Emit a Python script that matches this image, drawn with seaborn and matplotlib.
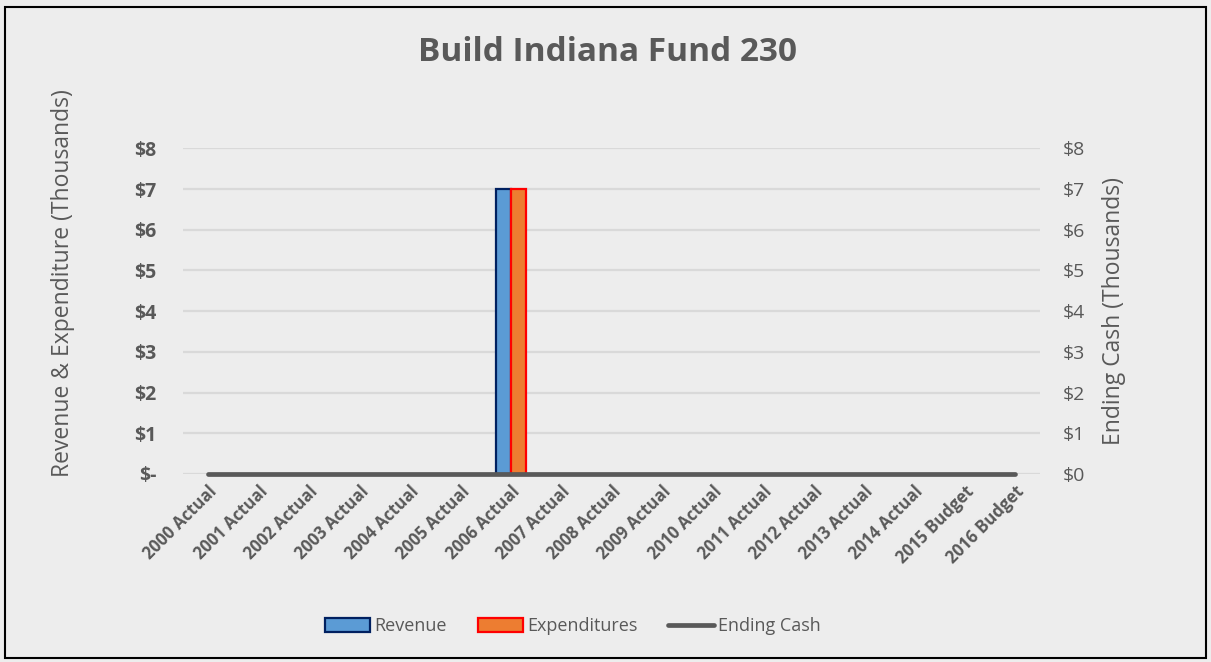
import numpy as np
import pandas as pd
import matplotlib.pyplot as plt
import seaborn as sns
from matplotlib.patches import Patch, Rectangle
from matplotlib.lines import Line2D

years = ['2000 Actual', '2001 Actual', '2002 Actual', '2003 Actual', '2004 Actual',
         '2005 Actual', '2006 Actual', '2007 Actual', '2008 Actual', '2009 Actual',
         '2010 Actual', '2011 Actual', '2012 Actual', '2013 Actual', '2014 Actual',
         '2015 Budget', '2016 Budget']
revenue = [0, 0, 0, 0, 0, 0, 7, 0, 0, 0, 0, 0, 0, 0, 0, 0, 0]
expenditures = [0, 0, 0, 0, 0, 0, 7, 0, 0, 0, 0, 0, 0, 0, 0, 0, 0]
ending_cash = [0, 0, 0, 0, 0, 0, 0, 0, 0, 0, 0, 0, 0, 0, 0, 0, 0]
left_ticks = ['$-', '$1', '$2', '$3', '$4', '$5', '$6', '$7', '$8']
right_ticks = ['$0', '$1', '$2', '$3', '$4', '$5', '$6', '$7', '$8']

sns.set_theme(style='white')
plt.rcParams['font.family'] = ['Open Sans', 'DejaVu Sans']
txt = '#595959'
bg = '#EDEDED'

# long table for seaborn; zero bars are left out so no edge lines show at 0
df = pd.DataFrame({'year': years * 2,
                   'value': revenue + expenditures,
                   'series': ['Revenue'] * len(years) + ['Expenditures'] * len(years)})
df.loc[df['value'] == 0, 'value'] = np.nan

fig = plt.figure(figsize=(12.11, 6.62), dpi=100, facecolor=bg)
ax = fig.add_axes([0.151, 0.284, 0.708, 0.492])
ax.set_facecolor(bg)

sns.barplot(data=df, x='year', y='value', hue='series', order=years,
            hue_order=['Revenue', 'Expenditures'],
            palette={'Revenue': '#5B9BD5', 'Expenditures': '#ED7D31'},
            saturation=1, width=0.6, errorbar=None, ax=ax, legend=False, zorder=3)
edge = {'Revenue': '#002060', 'Expenditures': '#FF0000'}
for cont, name in zip(ax.containers, ['Revenue', 'Expenditures']):
    for bar in cont:
        bar.set_edgecolor(edge[name])
        bar.set_linewidth(1.6)

ax.set_ylim(0, 8)
ax.set_xlim(-0.5, len(years) - 0.5)
ax.set_yticks(range(9))
ax.set_yticklabels(left_ticks, fontsize=14, fontweight='bold', color=txt)
ax.yaxis.grid(True, color='#D9D9D9', linewidth=1.6, zorder=0)
ax.set_axisbelow(True)
ax.set_xticks(range(len(years)))
ax.set_xticklabels(years, rotation=45, ha='right', rotation_mode='anchor',
                   fontsize=12, fontweight='bold', color=txt)
ax.tick_params(axis='y', length=0, pad=19)
ax.tick_params(axis='x', length=0, pad=6)
ax.set_xlabel('')
ax.set_ylabel('Revenue & Expenditure (Thousands)', fontsize=16.5, color=txt)
ax.yaxis.set_label_coords(-0.126, 0.586)
for s in ax.spines.values():
    s.set_visible(False)

ax2 = ax.twinx()
sns.lineplot(x=list(range(len(years))), y=ending_cash, ax=ax2, color='#595959',
             linewidth=3.4, legend=False, zorder=5, clip_on=False)
ax2.set_ylim(0, 8)
ax2.set_yticks(range(9))
ax2.set_yticklabels(right_ticks, fontsize=14, color=txt)
ax2.tick_params(axis='y', length=0, pad=16)
ax2.set_ylabel('Ending Cash (Thousands)', fontsize=16.5, color=txt)
ax2.yaxis.set_label_coords(1.0715, 0.5)
ax2.grid(False)
for s in ax2.spines.values():
    s.set_visible(False)

fig.text(0.502, 0.92, 'Build Indiana Fund 230', ha='center', va='center',
         fontsize=24, fontweight='bold', color=txt)

handles = [Patch(facecolor='#5B9BD5', edgecolor='#002060', linewidth=1.6),
           Patch(facecolor='#ED7D31', edgecolor='#FF0000', linewidth=1.6),
           Line2D([0], [0], color='#595959', linewidth=3.4)]
leg = fig.legend(handles, ['Revenue', 'Expenditures', 'Ending Cash'], loc='center',
                 bbox_to_anchor=(0.473, 0.054), ncol=3, frameon=False, fontsize=13,
                 handlelength=2.5, handleheight=0.85, handletextpad=0.25,
                 columnspacing=1.7)
for t in leg.get_texts():
    t.set_color(txt)

fig.patches.append(Rectangle((0.004, 0.006), 0.992, 0.984, transform=fig.transFigure,
                             fill=False, edgecolor='black', linewidth=1.5))

fig.savefig('out.png', dpi=100, facecolor=bg)
